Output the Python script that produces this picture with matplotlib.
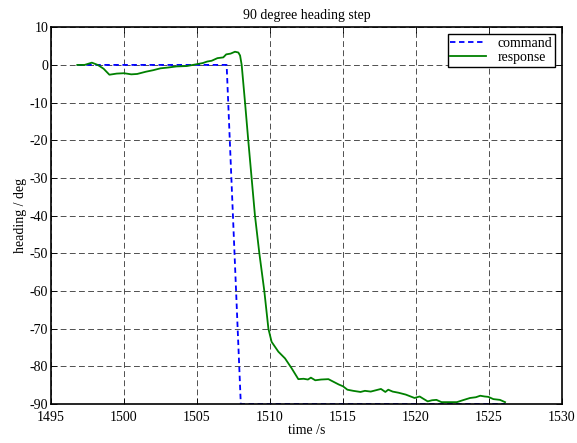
import matplotlib
matplotlib.use("Agg")
import matplotlib.pyplot as plt

plt.rcParams['font.family'] = ['Liberation Serif', 'DejaVu Serif']
plt.rcParams['axes.unicode_minus'] = False

# command signal (step from 0 to -90 deg)
cmd_t = [1496.8, 1507.03, 1508.0, 1526.1]
cmd_h = [0, 0, -90, -90]

# measured heading response
resp_t = [1496.8, 1497.3, 1497.8, 1498.2, 1498.6, 1499.0, 1499.5, 1500.0, 1500.5, 1500.9,
          1501.5, 1502.0, 1502.5, 1503.0, 1503.6, 1504.3, 1505.0, 1505.4, 1505.7, 1506.0,
          1506.4, 1506.8, 1507.0, 1507.3, 1507.6, 1507.83, 1507.95, 1508.06, 1508.29, 1508.51,
          1508.74, 1508.97, 1509.27, 1509.61, 1509.89, 1510.11, 1510.57, 1511.03, 1511.48, 1511.94,
          1512.3, 1512.6, 1512.8, 1513.1, 1513.5, 1514.0, 1514.3,
          1514.7, 1515.0, 1515.3, 1515.7, 1516.2, 1516.5, 1516.9, 1517.3, 1517.6, 1517.9,
          1518.1, 1518.4, 1518.8, 1519.3, 1519.9, 1520.25, 1520.5, 1520.8, 1521.1, 1521.4,
          1521.75, 1522.3, 1522.8, 1523.2, 1523.7, 1524.1, 1524.4, 1524.7, 1524.95, 1525.3,
          1525.75, 1526.1]
resp_h = [0, 0, 0.6, 0, -1.0, -2.6, -2.3, -2.2, -2.5, -2.4,
          -1.8, -1.4, -0.9, -0.7, -0.4, -0.3, 0.2, 0.5, 0.9, 1.1,
          1.8, 2.0, 2.8, 3.0, 3.5, 3.3, 2.5, 0, -10, -20,
          -30, -40, -50, -60, -70, -73.5, -76.1, -77.9, -80.5, -83.4,
          -83.3, -83.5, -83.0, -83.7, -83.5, -83.4, -84.0,
          -84.8, -85.3, -86.2, -86.5, -86.8, -86.5, -86.7, -86.3, -86.0, -86.8,
          -86.2, -86.7, -87.0, -87.5, -88.4, -88.0, -88.6, -89.3, -89.0, -88.9,
          -89.5, -89.5, -89.5, -89.0, -88.4, -88.2, -87.8, -88.0, -88.1, -88.7,
          -88.9, -89.5]

fig = plt.figure(figsize=(5.77, 4.43), dpi=100)
ax = fig.add_axes([0.0884, 0.088, 0.8856, 0.8505])

ax.plot(cmd_t, cmd_h, color='#0000ff', linestyle=(0, (3, 2)), linewidth=1.3, label='command')
ax.plot(resp_t, resp_h, color='#008000', linewidth=1.3, label='response')

ax.set_xlim(1495, 1530)
ax.set_ylim(-90, 10)
ax.set_xticks(range(1495, 1531, 5))
ax.set_yticks(range(-90, 11, 10))
ax.tick_params(direction='in', top=True, right=True, labelsize=10, length=4, width=0.6, pad=2)
ax.tick_params(axis='x', pad=5)
ax.grid(True, color='black', linestyle=(0, (7, 4)), linewidth=0.6, alpha=0.8)
for s in ax.spines.values():
    s.set_linewidth(1.2)

ax.set_title("90 degree heading step", fontsize=10, pad=6)
ax.set_xlabel("time /s", fontsize=10, labelpad=0)
ax.set_ylabel("heading / deg", fontsize=10, labelpad=2)

leg = ax.legend(loc='upper right', fancybox=False, framealpha=1, edgecolor='black',
                fontsize=10, handlelength=2.6, borderpad=0.2, labelspacing=0.1,
                borderaxespad=0.5)
leg.get_frame().set_linewidth(1.0)

fig.savefig("out.png", dpi=100)
